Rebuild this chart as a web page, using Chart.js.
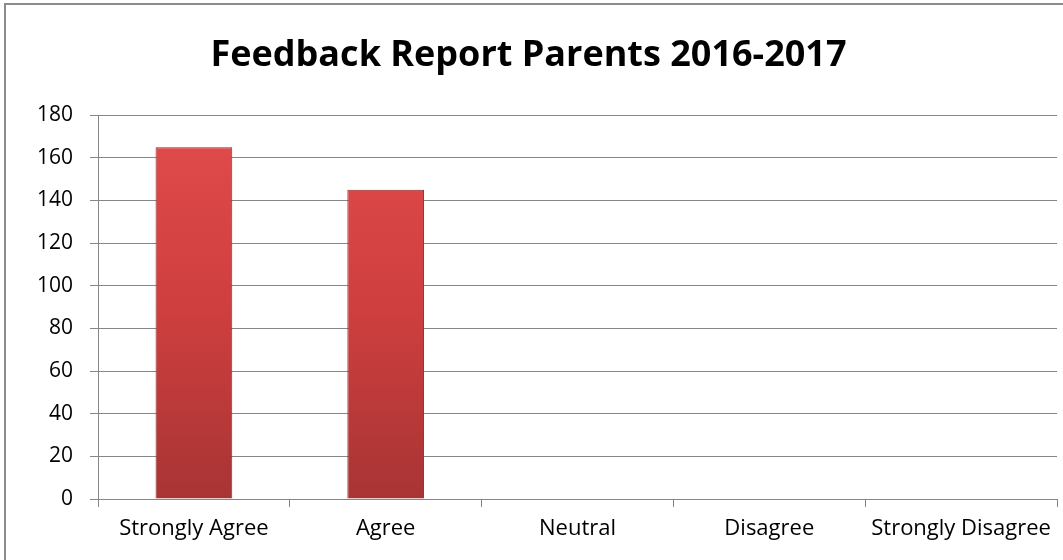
<!DOCTYPE html>
<html>
<head>
<meta charset="utf-8">
<script src="https://cdn.jsdelivr.net/npm/chart.js@4/dist/chart.umd.min.js"></script>
<style>
  html, body { margin: 0; padding: 0; background: #fff; }
  #wrap { width: 1063px; height: 560px; position: relative; }
</style>
</head>
<body>
<div id="wrap"><canvas id="chart"></canvas></div>
<script>
// chart data
const categories = ['Strongly Agree', 'Agree', 'Neutral', 'Disagree', 'Strongly Disagree'];
const responses = [165, 145, 0, 0, 0];
const yTicks = [0, 20, 40, 60, 80, 100, 120, 140, 160, 180];

const FONT = '"Open Sans", Lato, sans-serif';

// outer frame like the office chart border
const framePlugin = {
    id: 'frame',
    beforeDraw(chart) {
        const ctx = chart.ctx;
        ctx.save();
        ctx.fillStyle = '#fff';
        ctx.fillRect(0, 0, chart.width, chart.height);
        ctx.strokeStyle = '#8c8c8c';
        ctx.lineWidth = 2;
        ctx.strokeRect(5, 4, chart.width + 20, chart.height + 20);
        ctx.restore();
    }
};

function barFill(context) {
    const chart = context.chart;
    const area = chart.chartArea;
    if (!area) return '#d04040';
    const g = chart.ctx.createLinearGradient(0, area.top, 0, area.bottom);
    g.addColorStop(0, '#e24b4b');
    g.addColorStop(0.5, '#cf3f3f');
    g.addColorStop(1, '#a83434');
    return g;
}

new Chart(document.getElementById('chart'), {
    type: 'bar',
    data: {
        labels: categories,
        datasets: [{
            label: 'Responses',
            data: responses,
            backgroundColor: barFill,
            borderColor: '#8e2a2a',
            borderWidth: 1,
            barPercentage: 0.4,
            categoryPercentage: 1
        }]
    },
    options: {
        responsive: true,
        maintainAspectRatio: false,
        animation: false,
        layout: { padding: { left: 0, right: 6, top: 0, bottom: 0 } },
        plugins: {
            legend: { display: false },
            tooltip: { enabled: false },
            title: {
                display: true,
                text: 'Feedback Report Parents 2016-2017',
                color: '#000',
                font: { family: FONT, size: 36, weight: 'bold' },
                padding: { top: 34, bottom: 38 }
            }
        },
        scales: {
            x: {
                grid: {
                    offset: true,
                    drawOnChartArea: false,
                    drawTicks: true,
                    tickLength: 8,
                    color: '#868686'
                },
                border: { display: true, color: '#868686', width: 1 },
                ticks: {
                    color: '#000',
                    padding: 9,
                    maxRotation: 0,
                    font: { family: FONT, size: 22 }
                },
                afterFit(scale) { scale.height = 61; }
            },
            y: {
                min: 0,
                max: 180,
                afterBuildTicks(scale) {
                    scale.ticks = yTicks.map(v => ({ value: v }));
                },
                grid: {
                    color: '#868686',
                    tickLength: 8,
                    drawTicks: true
                },
                border: { display: true, color: '#868686', width: 1 },
                ticks: {
                    color: '#000',
                    padding: 17,
                    font: { family: FONT, size: 21 }
                },
                afterFit(scale) { scale.width = 98; }
            }
        }
    },
    plugins: [framePlugin]
});
</script>
</body>
</html>
